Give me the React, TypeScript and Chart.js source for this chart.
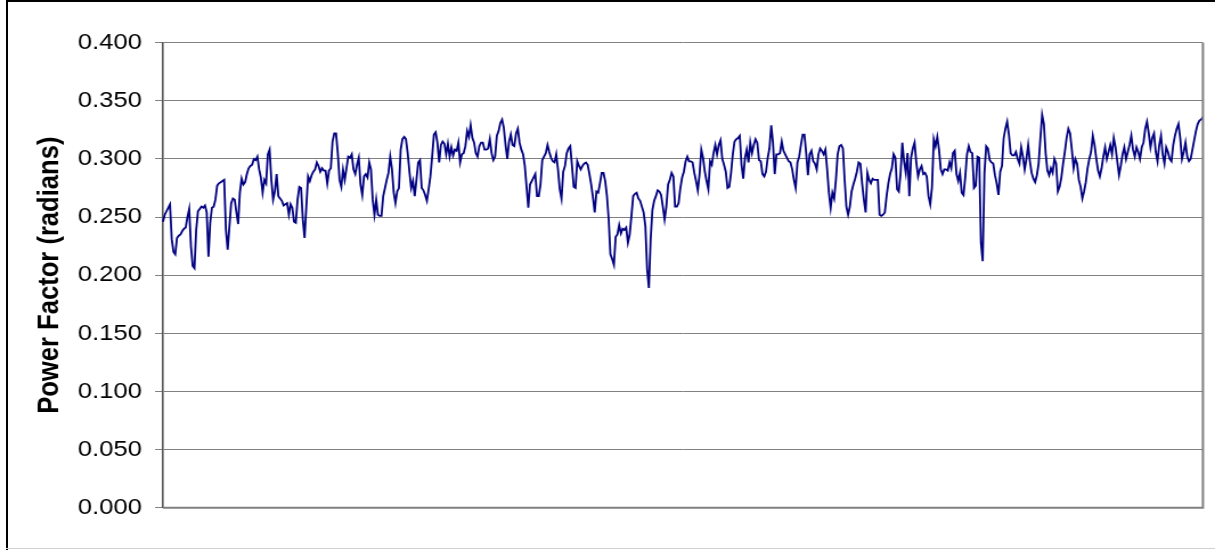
import React, { useEffect, useRef } from "react";
import { Chart, registerables } from "chart.js";

Chart.register(...registerables);

// Power factor samples, in order of acquisition (radians).
const powerFactor: number[] = [
  // block 1
  0.246, 0.252, 0.255, 0.258, 0.261, 0.231, 0.220, 0.218, 0.232, 0.234,
  0.235, 0.238, 0.240, 0.241, 0.250, 0.257, 0.225, 0.208, 0.206, 0.239,
  0.255, 0.257, 0.259, 0.258, 0.260, 0.254, 0.216, 0.245, 0.258, 0.259,
  0.265, 0.277, 0.279, 0.280, 0.281, 0.282, 0.239, 0.222, 0.242, 0.262,
  0.266, 0.265, 0.254, 0.244, 0.271, 0.283, 0.278, 0.280, 0.287, 0.292,
  0.294, 0.295, 0.300,
  // block 2
  0.299, 0.302, 0.291, 0.284, 0.271, 0.282, 0.279, 0.304, 0.308, 0.282,
  0.265, 0.272, 0.287, 0.268, 0.266, 0.264, 0.260, 0.261, 0.262, 0.252,
  0.261, 0.258, 0.246, 0.245, 0.265, 0.276, 0.275, 0.248, 0.232, 0.259,
  0.285, 0.281, 0.286, 0.289, 0.291, 0.297, 0.294, 0.289, 0.292, 0.290,
  0.290, 0.279, 0.290, 0.292, 0.315, 0.322, 0.322, 0.305, 0.282, 0.276,
  0.291, 0.282, 0.292, 0.302,
  // block 3
  0.301, 0.304, 0.291, 0.287, 0.295, 0.301, 0.278, 0.269, 0.285, 0.287,
  0.284, 0.297, 0.291, 0.265, 0.252, 0.265, 0.252, 0.251, 0.251, 0.268,
  0.275, 0.282, 0.288, 0.302, 0.291, 0.271, 0.262, 0.272, 0.275, 0.308,
  0.317, 0.319, 0.317, 0.305, 0.289, 0.275, 0.281, 0.268, 0.282, 0.297,
  0.299, 0.275, 0.273, 0.269, 0.264, 0.274, 0.285, 0.302, 0.321, 0.323,
  0.314, 0.297, 0.312, 0.315,
  // block 4
  0.313, 0.304, 0.313, 0.302, 0.310, 0.303, 0.308, 0.307, 0.314, 0.297,
  0.304, 0.305, 0.311, 0.324, 0.319, 0.329, 0.318, 0.314, 0.305, 0.302,
  0.311, 0.314, 0.314, 0.308, 0.308, 0.309, 0.317, 0.305, 0.299, 0.302,
  0.320, 0.324, 0.331, 0.334, 0.327, 0.312, 0.300, 0.315, 0.321, 0.312,
  0.311, 0.322, 0.326, 0.314, 0.308, 0.304, 0.294, 0.276, 0.258, 0.278,
  0.281, 0.284, 0.287, 0.268,
  // block 5
  0.268, 0.278, 0.299, 0.302, 0.305, 0.312, 0.306, 0.301, 0.298, 0.297,
  0.304, 0.291, 0.274, 0.266, 0.289, 0.294, 0.305, 0.309, 0.311, 0.294,
  0.276, 0.275, 0.298, 0.294, 0.291, 0.294, 0.296, 0.297, 0.295, 0.287,
  0.278, 0.267, 0.254, 0.272, 0.271, 0.279, 0.288, 0.288, 0.281, 0.268,
  0.248, 0.218, 0.214, 0.209, 0.233, 0.235, 0.243, 0.236, 0.240, 0.239,
  0.241, 0.228, 0.235, 0.251, 0.268,
  // block 6
  0.270, 0.271, 0.266, 0.264, 0.259, 0.254, 0.242, 0.205, 0.189, 0.231,
  0.256, 0.264, 0.268, 0.273, 0.272, 0.269, 0.259, 0.248, 0.259, 0.278,
  0.282, 0.288, 0.285, 0.259, 0.259, 0.262, 0.275, 0.284, 0.289, 0.298,
  0.302, 0.298, 0.298, 0.297, 0.288, 0.281, 0.273, 0.287, 0.308, 0.301,
  0.289, 0.281, 0.274, 0.298, 0.295, 0.305, 0.312, 0.304, 0.312, 0.316,
  0.300, 0.295, 0.289, 0.275,
  // block 7
  0.276, 0.288, 0.304, 0.315, 0.317, 0.318, 0.320, 0.295, 0.283, 0.301,
  0.308, 0.297, 0.314, 0.305, 0.312, 0.317, 0.314, 0.299, 0.298, 0.287,
  0.285, 0.289, 0.301, 0.309, 0.329, 0.314, 0.287, 0.304, 0.304, 0.305,
  0.315, 0.307, 0.304, 0.301, 0.298, 0.297, 0.291, 0.282, 0.275, 0.297,
  0.302, 0.312, 0.321, 0.321, 0.305, 0.286, 0.304, 0.307, 0.298, 0.296,
  0.291, 0.304, 0.309, 0.307,
  // block 8
  0.304, 0.308, 0.291, 0.271, 0.258, 0.271, 0.266, 0.282, 0.304, 0.311,
  0.312, 0.309, 0.282, 0.259, 0.252, 0.259, 0.272, 0.278, 0.283, 0.289,
  0.297, 0.296, 0.279, 0.265, 0.254, 0.288, 0.282, 0.279, 0.283, 0.282,
  0.282, 0.282, 0.252, 0.251, 0.252, 0.254, 0.268, 0.279, 0.287, 0.292,
  0.304, 0.301, 0.274, 0.272, 0.287, 0.314, 0.298, 0.288, 0.305, 0.268,
  0.301, 0.309, 0.314, 0.297, 0.285,
  // block 9
  0.291, 0.294, 0.287, 0.288, 0.285, 0.268, 0.261, 0.276, 0.317, 0.311,
  0.319, 0.308, 0.291, 0.287, 0.291, 0.291, 0.290, 0.297, 0.292, 0.305,
  0.307, 0.287, 0.281, 0.288, 0.271, 0.269, 0.284, 0.304, 0.311, 0.306,
  0.305, 0.275, 0.277, 0.302, 0.301, 0.228, 0.212, 0.288, 0.311, 0.309,
  0.299, 0.297, 0.296, 0.286, 0.279, 0.269, 0.289, 0.294, 0.318, 0.326,
  0.332, 0.321, 0.305, 0.303,
  // block 10
  0.303, 0.306, 0.300, 0.296, 0.310, 0.302, 0.291, 0.300, 0.312, 0.298,
  0.288, 0.283, 0.280, 0.286, 0.296, 0.318, 0.338, 0.330, 0.305, 0.290,
  0.286, 0.292, 0.288, 0.300, 0.296, 0.272, 0.276, 0.284, 0.296, 0.306,
  0.318, 0.326, 0.322, 0.308, 0.292, 0.300, 0.296, 0.282, 0.276, 0.266,
  0.272, 0.280, 0.292, 0.300, 0.306, 0.320, 0.312, 0.300, 0.290, 0.285,
  0.292, 0.302, 0.310, 0.300, 0.306, 0.312, 0.304, 0.318, 0.310, 0.298,
  0.286, 0.294, 0.304, 0.310, 0.300, 0.306, 0.312, 0.320, 0.308, 0.302,
  0.310, 0.306, 0.300, 0.310, 0.314, 0.326, 0.332, 0.322, 0.310, 0.318,
  0.322, 0.306, 0.298, 0.312, 0.320, 0.304, 0.296, 0.310, 0.306, 0.300,
  0.298, 0.312, 0.320, 0.326, 0.330, 0.318, 0.300, 0.306, 0.314, 0.302,
  0.298, 0.300, 0.308, 0.316, 0.324, 0.330, 0.333, 0.334, 0.336,
];

// Sample numbers used as categories (the axis shows no labels).
const sampleNumbers: string[] = powerFactor.map((_, i) => String(i + 1));

// Value axis ticks.
const yTickValues: number[] = [0, 0.05, 0.1, 0.15, 0.2, 0.25, 0.3, 0.35, 0.4];

const yAxisTitle = "Power Factor (radians)";

// The chart is laid out on a narrower canvas and stretched horizontally.
const INNER_WIDTH = 1066;
const STRETCH = 1215 / INNER_WIDTH;

const plotFrame = {
  id: "plotFrame",
  afterDatasetsDraw(chart: any) {
    const { ctx, chartArea } = chart;
    const { left, right, top, bottom } = chartArea;
    ctx.save();
    ctx.strokeStyle = "#808080";
    ctx.lineWidth = 2;
    ctx.beginPath();
    ctx.moveTo(right, top);
    ctx.lineTo(right, bottom);
    ctx.lineTo(left, bottom);
    ctx.stroke();
    ctx.restore();
  },
};

function PowerFactorChart() {
  const canvasRef = useRef<HTMLCanvasElement | null>(null);

  useEffect(() => {
    const canvas = canvasRef.current;
    if (!canvas) return;
    const chart = new Chart(canvas, {
      type: "line",
      data: {
        labels: sampleNumbers,
        datasets: [
          {
            data: powerFactor,
            borderColor: "#000080",
            borderWidth: 1.8,
            pointRadius: 0,
            pointHoverRadius: 0,
            tension: 0,
            fill: false,
          },
        ],
      },
      options: {
        animation: false,
        responsive: true,
        maintainAspectRatio: false,
        events: [],
        layout: {
          padding: { left: 0, right: 10.6, top: 42.7, bottom: 42.3 },
        },
        plugins: {
          legend: { display: false },
          tooltip: { enabled: false },
          title: { display: false },
        },
        scales: {
          x: {
            type: "category",
            display: false,
            offset: false,
          },
          y: {
            min: 0,
            max: 0.4,
            afterBuildTicks: (axis: any) => {
              axis.ticks = yTickValues.map((v) => ({ value: v }));
            },
            afterFit: (axis: any) => {
              axis.width = 143;
            },
            ticks: {
              padding: 11.4,
              color: "#000000",
              font: { family: "'Liberation Sans', Arial, sans-serif", size: 22.5 },
              callback: (v: any) => Number(v).toFixed(3),
            },
            grid: {
              color: "#808080",
              lineWidth: 1,
              tickLength: 7,
              drawTicks: true,
            },
            border: { display: true, color: "#555555", width: 1.6 },
            title: {
              display: true,
              text: yAxisTitle,
              color: "#000000",
              font: {
                family: "'Liberation Sans', Arial, sans-serif",
                size: 25.6,
                weight: "bold",
              },
              padding: { top: 28.5, bottom: 0 },
            },
          },
        },
      },
      plugins: [plotFrame],
    });
    return () => chart.destroy();
  }, []);

  return (
    <div
      style={{
        position: "absolute",
        left: 0,
        top: 0,
        width: INNER_WIDTH,
        height: 550,
        transform: `scaleX(${STRETCH})`,
        transformOrigin: "0 0",
      }}
    >
      <canvas ref={canvasRef} />
    </div>
  );
}

export default function App() {
  return (
    <div
      style={{
        position: "absolute",
        left: 0,
        top: 0,
        width: 1215,
        height: 550,
        background: "#ffffff",
        overflow: "hidden",
      }}
    >
      <PowerFactorChart />
      <div style={{ position: "absolute", left: 6, top: 0, width: 2, height: 550, background: "#000" }} />
      <div style={{ position: "absolute", left: 6, top: 0, width: 1209, height: 2, background: "#000" }} />
      <div style={{ position: "absolute", left: 6, top: 548, width: 1209, height: 1, background: "#d0d0d0" }} />
    </div>
  );
}
